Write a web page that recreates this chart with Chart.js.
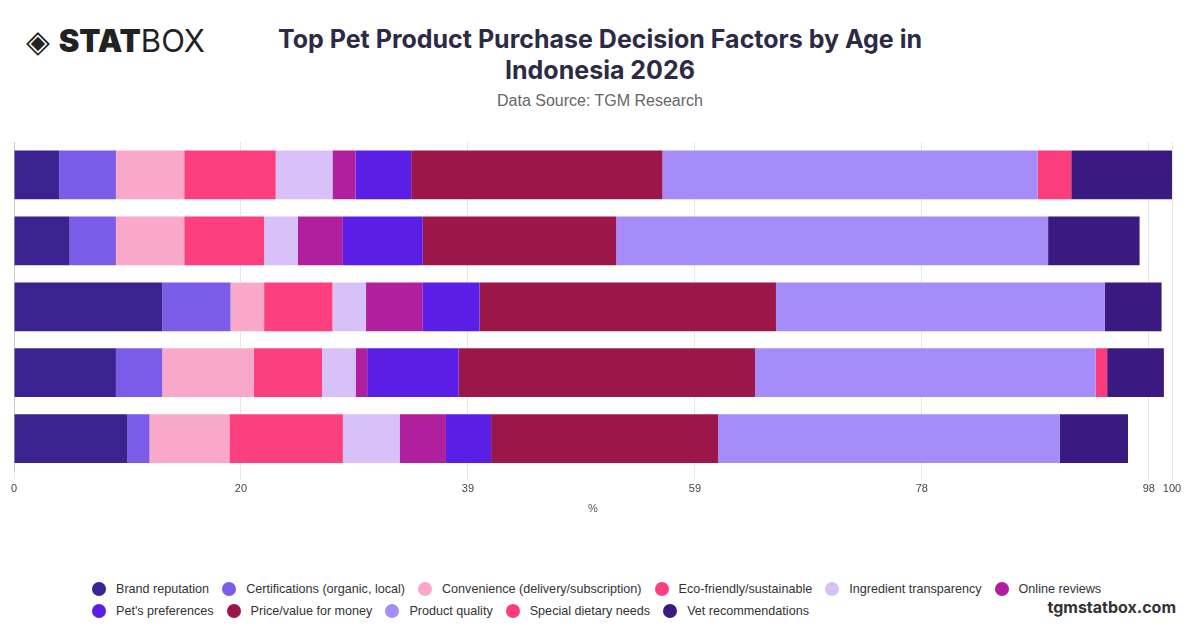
<!DOCTYPE html>
<html>
<head>
<meta charset="utf-8">
<script src="https://cdn.jsdelivr.net/npm/chart.js@4/dist/chart.umd.min.js"></script>
<style>
body { margin:0; width:1200px; height:628px; background:#fff; font-family:"Liberation Sans", sans-serif; position:relative; overflow:hidden; }
#logo { position:absolute; left:26px; top:22px; font-family:"Inter", sans-serif; font-size:31px; color:#222; }
#logo b { font-weight:900; }
#title { position:absolute; left:240px; width:720px; top:24px; text-align:center; font-family:"Inter", sans-serif; font-weight:700; font-size:25px; line-height:31px; color:#2d2a45; }
#sub { position:absolute; left:0; width:1200px; top:92px; text-align:center; font-size:16px; color:#666; }
#wrap { position:absolute; left:0; top:140px; width:1200px; height:380px; }
#legend { position:absolute; left:92px; top:578px; width:1040px; font-size:12.6px; color:#333; white-space:nowrap; }
.item { display:inline-flex; align-items:center; margin-right:13px; height:22px; }
.dot { width:14px; height:14px; border-radius:50%; margin-right:10px; }
#brand { position:absolute; right:24px; top:597px; font-family:"Inter", sans-serif; font-weight:700; font-size:16px; color:#333; }
</style>
</head>
<body>
<div id="logo">◈ <b>STAT</b>BOX</div>
<div id="title">Top Pet Product Purchase Decision Factors by Age in Indonesia 2026</div>
<div id="sub">Data Source: TGM Research</div>
<div id="wrap"><canvas id="myChart"></canvas></div>
<div id="legend"></div>
<div id="brand">tgmstatbox.com</div>
<script>
const ageGroups = ["18-24", "25-34", "35-44", "45-54", "55+"];
const factors = ["Brand reputation", "Certifications (organic, local)", "Convenience (delivery/subscription)", "Eco-friendly/sustainable", "Ingredient transparency", "Online reviews", "Pet's preferences", "Price/value for money", "Product quality", "Special dietary needs", "Vet recommendations"];
const colores = ["#3a2290", "#7b5ce8", "#f9a8c9", "#fc3f7e", "#d8c0f8", "#b01f9e", "#5a1ee6", "#9b174a", "#a58cf8", "#fb3d7d", "#3a1a80"];
const brandRep = [3.9, 4.8, 12.8, 8.8, 9.8];
const certif = [4.9, 4.0, 5.9, 4.0, 1.9];
const conven = [5.9, 5.9, 2.9, 7.9, 6.9];
const ecoFriendly = [7.9, 6.9, 5.9, 5.9, 9.8];
const ingredient = [4.9, 2.9, 2.9, 2.9, 4.9];
const onlineRev = [2.0, 3.9, 4.9, 1.0, 4.0];
const petPref = [4.8, 6.9, 4.9, 7.9, 3.9];
const price = [21.7, 16.7, 25.6, 25.6, 19.6];
const quality = [32.4, 37.3, 28.4, 29.4, 29.5];
const specialDiet = [2.9, 0, 0, 1.0, 0];
const vetRec = [8.8, 7.9, 4.9, 4.9, 5.9];
const tickValues = [0, 19.6, 39.2, 58.8, 78.4, 98, 100];

const series = [brandRep, certif, conven, ecoFriendly, ingredient, onlineRev, petPref, price, quality, specialDiet, vetRec];

const datasets = factors.map(function(f, i) {
    return { label: f, data: series[i], backgroundColor: colores[i], borderWidth: 0, barPercentage: 0.74, categoryPercentage: 1 };
});

// leyenda en dos filas como el original
let html = "";
for (let i = 0; i < factors.length; i++) {
    if (i == 6) html += "<br>";
    html += `<span class="item"><span class="dot" style="background:${colores[i]}"></span>${factors[i]}</span>`;
}
document.getElementById("legend").innerHTML = html;

new Chart(document.querySelector('#myChart'), {
    type: 'bar',
    data: { labels: ageGroups, datasets: datasets },
    options: {
        indexAxis: 'y',
        responsive: true,
        maintainAspectRatio: false,
        animation: false,
        layout: { padding: { left: 6, right: 28, top: 2 } },
        plugins: { legend: { display: false }, tooltip: { enabled: false } },
        scales: {
            x: {
                stacked: true, min: 0, max: 100,
                afterBuildTicks: function(ax) { ax.ticks = tickValues.map(v => ({ value: v })); },
                ticks: { callback: v => Math.round(v), color: '#444', font: { size: 11, family: 'Liberation Sans' }, maxRotation: 0 },
                grid: { color: '#e6e6e6' },
                border: { display: false },
                title: { display: true, text: '%', color: '#555', font: { size: 11, family: 'Liberation Sans' } }
            },
            y: {
                stacked: true,
                ticks: { display: false },
                grid: { display: false },
                border: { color: '#ccc' }
            }
        }
    }
});
</script>
</body>
</html>
